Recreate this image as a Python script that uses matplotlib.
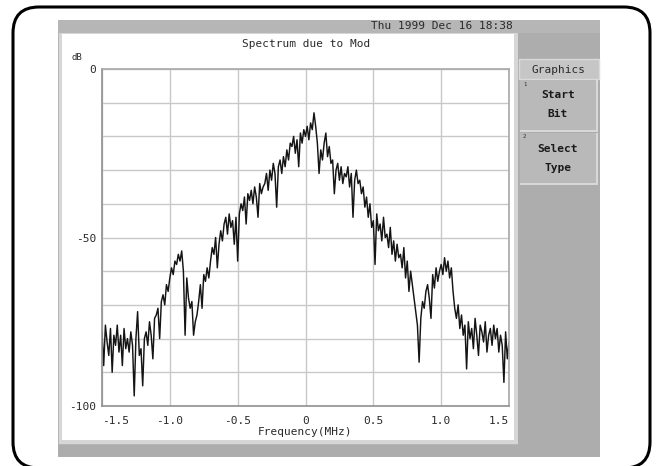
"""Spectrum due to Mod: copie d'écran d'un analyseur (spectre de modulation)."""
import matplotlib
matplotlib.use("Agg")
import matplotlib.pyplot as plt
import numpy as np
from matplotlib.patches import FancyBboxPatch, Rectangle

plt.rcParams["axes.unicode_minus"] = False

W, H = 656, 466
MONO = ["DejaVu Sans Mono", "Liberation Mono"]
TXT = "#2a2a2a"

# fréquence (MHz), 241 raies de -1.5 à 1.5
freq = np.linspace(-1.5, 1.5, 241)
level = [
    -78, -88, -76, -81, -85, -77, -90, -79,
    -82, -76, -84, -79, -88, -77, -83, -80,
    -84, -78, -82, -97, -80, -72, -85, -83,
    -94, -80, -78, -82, -75, -79, -86, -74,
    -73, -71, -80, -69, -67, -70, -64, -66,
    -62, -59, -61, -57, -58, -55, -57, -54,
    -60, -79, -62, -68, -71, -69, -79, -75,
    -73, -69, -64, -71, -61, -63, -59, -62,
    -57, -53, -55, -50, -59, -52, -48, -51,
    -46, -44, -49, -43, -47, -45, -52, -44,
    -57, -43, -40, -42, -38, -46, -37, -39,
    -36, -40, -35, -38, -44, -34, -37, -35,
    -34, -31, -36, -30, -33, -28, -31, -41,
    -29, -27, -31, -26, -29, -24, -27, -22,
    -23, -20, -25, -21, -29, -19, -22, -18,
    -20, -17, -21, -16, -18, -13, -17, -22,
    -31, -24, -27, -22, -19, -26, -23, -28,
    -27, -37, -30, -28, -33, -29, -34, -31,
    -32, -29, -35, -31, -44, -33, -30, -34,
    -33, -37, -35, -41, -38, -44, -40, -47,
    -45, -58, -43, -48, -46, -51, -44, -50,
    -49, -53, -47, -55, -51, -57, -52, -56,
    -55, -59, -53, -62, -57, -66, -60, -64,
    -68, -72, -76, -87, -74, -69, -71, -66,
    -64, -68, -74, -61, -65, -59, -63, -60,
    -58, -61, -56, -60, -57, -62, -59, -66,
    -71, -74, -70, -77, -73, -79, -76, -89,
    -75, -80, -77, -83, -74, -79, -85, -76,
    -78, -81, -75, -84, -79, -77, -82, -76,
    -80, -77, -84, -79, -82, -93, -78, -86,
    -81,
]
xticks = [-1.5, -1.0, -0.5, 0, 0.5, 1.0, 1.5]
xlabels = ["-1.5", "-1.0", "-0.5", "0", "0.5", "1.0", "1.5"]
yticks = [0, -50, -100]

fig = plt.figure(figsize=(W / 100, H / 100), dpi=100)

# fond : cadre arrondi + écran de l'appareil, en pixels
bg = fig.add_axes([0, 0, 1, 1])
bg.set_xlim(0, W); bg.set_ylim(H, 0); bg.axis("off")
bg.add_patch(FancyBboxPatch((13, 7), 637, 461, boxstyle="round,pad=0,rounding_size=26",
                            lw=2.2, edgecolor="black", facecolor="white"))
bg.add_patch(Rectangle((58, 20), 542, 437, color="#b6b6b6", lw=0))
bg.add_patch(Rectangle((59, 33), 459, 411, color="#d6d6d6", lw=0))
bg.add_patch(Rectangle((62, 34), 452, 406, color="white", lw=0))
bg.add_patch(Rectangle((58, 445), 460, 12, color="#adadad", lw=0))
bg.add_patch(Rectangle((518, 33), 82, 424, color="#adadad", lw=0))

# menu de droite
bg.add_patch(Rectangle((519, 59), 80, 20, facecolor="#c6c6c6", edgecolor="#dadada", lw=1))
for y0 in (80, 133):
    bg.add_patch(Rectangle((520, y0), 78, 52, color="#d8d8d8", lw=0))
    bg.add_patch(Rectangle((520, y0), 76, 50, color="#b9b9b9", lw=0))
bg.text(559, 70, "Graphics", ha="center", va="center", fontsize=8, family=MONO, color=TXT)
bg.text(523, 84, "1", ha="left", va="center", fontsize=4, family=MONO, color=TXT)
bg.text(558, 95, "Start", ha="center", va="center", fontsize=8, family=MONO, color="#1a1a1a", weight="bold")
bg.text(558, 114, "Bit", ha="center", va="center", fontsize=8, family=MONO, color="#1a1a1a", weight="bold")
bg.text(523, 137, "2", ha="left", va="center", fontsize=4, family=MONO, color=TXT)
bg.text(558, 149, "Select", ha="center", va="center", fontsize=8, family=MONO, color="#1a1a1a", weight="bold")
bg.text(558, 168, "Type", ha="center", va="center", fontsize=8, family=MONO, color="#1a1a1a", weight="bold")

bg.text(513, 26, "Thu 1999 Dec 16 18:38", ha="right", va="center", fontsize=8, family=MONO, color=TXT)
bg.text(306, 44, "Spectrum due to Mod", ha="center", va="center", fontsize=8, family=MONO, color=TXT)
bg.text(72, 57, "dB", ha="left", va="center", fontsize=6.5, family=MONO, color=TXT)
bg.text(305, 432, "Frequency(MHz)", ha="center", va="center", fontsize=8, family=MONO, color=TXT)

# le graphe
ax = fig.add_axes([102 / W, 1 - 406 / H, 407 / W, 337 / H])
ax.plot(freq, level, color="#141414", lw=1.05)
ax.set_xlim(-1.5, 1.5)
ax.set_ylim(-100, 0)
ax.set_xticks(xticks, xlabels)
ax.set_yticks(yticks)
ax.set_yticks(np.arange(-90, 0, 10), minor=True)
ax.grid(True, which="both", color="#c8c8c8", lw=1)
ax.tick_params(which="both", length=0, labelsize=8, labelcolor=TXT)
ax.tick_params(axis="x", pad=7)
ax.tick_params(axis="y", pad=4)
for lab in ax.get_xticklabels() + ax.get_yticklabels():
    lab.set_family(MONO)
ax.get_xticklabels()[0].set_ha("left")
ax.get_xticklabels()[-1].set_ha("right")
for s in ax.spines.values():
    s.set_color("#a8a8a8"); s.set_linewidth(1.2)
ax.spines["left"].set_color("#909090")
ax.spines["bottom"].set_color("#909090")

fig.savefig("out.png", dpi=100, facecolor="white")
